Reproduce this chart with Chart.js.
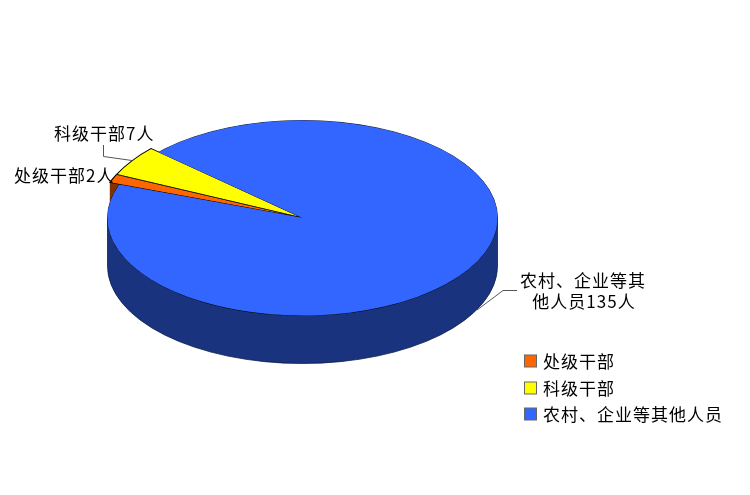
<!DOCTYPE html>
<html>
<head>
<meta charset="utf-8">
<script src="https://cdn.jsdelivr.net/npm/chart.js@4"></script>
<style>
  html, body { margin: 0; padding: 0; background: #fff; }
  canvas { display: block; }
</style>
</head>
<body>
<canvas id="pie" width="750" height="495"></canvas>
<script>
const categories = ["处级干部", "科级干部", "农村、企业等其他人员"];
const people = [2, 7, 135];
const faceColors = ["#ff6600", "#ffff00", "#3366ff"];
const wallColors = ["#7f3300", "#808000", "#19337f"];

const FONT = '17px "Noto Sans CJK SC"';
const SQUASH = 0.5;   // tilt of the pie
const DEPTH = 96;     // wall height before squash
const START_ANGLE = 290;

// the two small slices stick out a little from the big one
const poppedOut = [0, 1];

const tilt = {
  id: "tilt",
  afterDatasetsUpdate(chart) {
    const arcs = chart.getDatasetMeta(0).data;
    poppedOut.forEach((i) => {
      arcs[i].x -= 1;
      arcs[i].y -= 1;
      arcs[i].outerRadius += 9;
    });
  },
  beforeDatasetsDraw(chart) {
    const ctx = chart.ctx;
    const arcs = chart.getDatasetMeta(0).data;
    const big = arcs[2];
    const cy = big.y;
    ctx.save();
    ctx.translate(0, cy);
    ctx.scale(1, SQUASH);
    ctx.translate(0, -cy);

    // end face of the small slices, only a sliver of it shows on the left
    const o = arcs[0];
    const ex = o.x + o.outerRadius * Math.cos(o.startAngle);
    const ey = o.y + o.outerRadius * Math.sin(o.startAngle);
    ctx.fillStyle = wallColors[0];
    ctx.fillRect(ex, ey, 30, DEPTH);

    // front wall of the big slice
    const a0 = 2 * Math.PI;
    const a1 = 3 * Math.PI;
    ctx.fillStyle = wallColors[2];
    ctx.strokeStyle = "#0a1a40";
    ctx.lineWidth = 1;
    ctx.beginPath();
    ctx.arc(big.x, big.y, big.outerRadius, a0, a1);
    ctx.arc(big.x, big.y + DEPTH, big.outerRadius, a1, a0, true);
    ctx.closePath();
    ctx.fill();
    ctx.stroke();

    // whole top face underneath with its rim, the big slice itself has no border
    ctx.fillStyle = faceColors[2];
    ctx.strokeStyle = "#000";
    ctx.beginPath();
    ctx.arc(big.x, big.y, big.outerRadius, 0, 2 * Math.PI);
    ctx.fill();
    ctx.stroke();
  },
  afterDatasetsDraw(chart) {
    chart.ctx.restore();
  },
  afterDraw(chart) {
    const ctx = chart.ctx;
    ctx.save();

    // leader lines
    ctx.strokeStyle = "#555";
    ctx.lineWidth = 1;
    ctx.beginPath();
    ctx.moveTo(103.5, 145);
    ctx.lineTo(103.5, 156.5);
    ctx.lineTo(132, 160.5);
    ctx.moveTo(517, 290.5);
    ctx.lineTo(503, 290.5);
    ctx.lineTo(477, 310);
    ctx.stroke();

    // slice labels
    ctx.fillStyle = "#000";
    ctx.font = FONT;
    ctx.letterSpacing = "1px";
    ctx.textBaseline = "middle";
    ctx.textAlign = "left";
    ctx.fillText(categories[0] + people[0] + "人", 14, 176);
    ctx.fillText(categories[1] + people[1] + "人", 54, 134);
    ctx.textAlign = "center";
    ctx.fillText(categories[2].slice(0, 7), 583, 281);
    ctx.fillText(categories[2].slice(7) + people[2] + "人", 584, 302);

    // legend
    ctx.textAlign = "left";
    const rowY = [361, 388, 414];
    categories.forEach((name, i) => {
      ctx.fillStyle = faceColors[i];
      ctx.fillRect(524.5, rowY[i] - 6, 12, 12);
      ctx.strokeStyle = "#666";
      ctx.strokeRect(524.5, rowY[i] - 6, 12, 12);
      ctx.fillStyle = "#000";
      ctx.fillText(name, 543, rowY[i] + 1);
    });
    ctx.restore();
  },
};

new Chart(document.getElementById("pie"), {
  type: "pie",
  data: {
    labels: categories,
    datasets: [
      {
        data: people,
        backgroundColor: faceColors,
        borderColor: "#000",
        borderWidth: [1.4, 1.4, 0],
        borderJoinStyle: "miter",
        clip: false,
      },
    ],
  },
  options: {
    responsive: false,
    animation: false,
    rotation: START_ANGLE,
    radius: 195,
    layout: { padding: { left: 107, right: 252, top: 23, bottom: 82 } },
    plugins: { legend: { display: false }, tooltip: { enabled: false } },
    events: [],
  },
  plugins: [tilt],
});
</script>
</body>
</html>
